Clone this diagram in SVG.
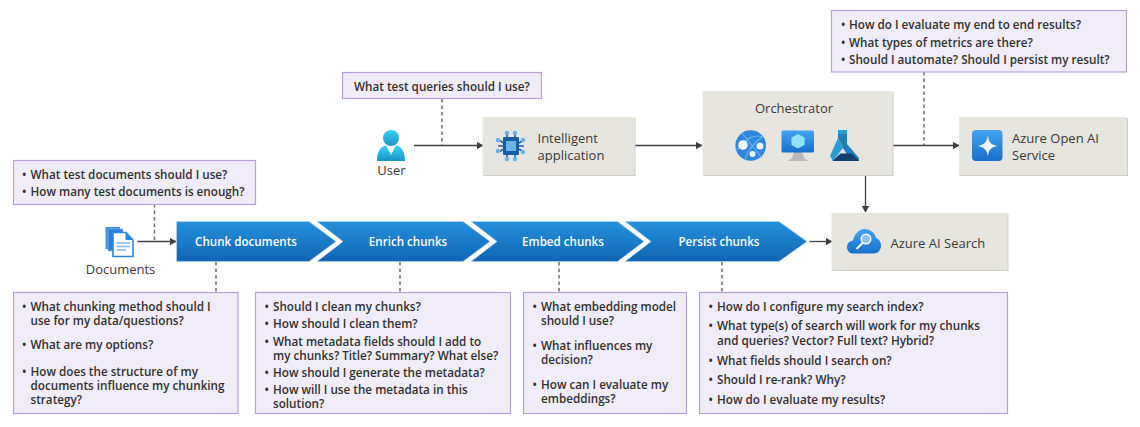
<svg xmlns="http://www.w3.org/2000/svg" width="1140" height="427" viewBox="0 0 1140 427">
<style>
text{font-family:"Open Sans","Noto Sans","Liberation Sans",sans-serif}
.q{fill:#f0edf8;stroke:#b9a0dc;stroke-width:1.2}
.qt{font-size:11.7px;font-weight:650;fill:#323130;transform:translateY(1px)}
.box{fill:#e6e5e0}
.sh{fill:#cfcec9}
.lb{font-size:13px;fill:#3b3a39}
.ct{font-size:11.6px;font-weight:650;fill:#fff;text-anchor:middle}
.ln{fill:none;stroke:#3f3f46;stroke-width:1.3}
.ds{fill:none;stroke:#6b6b6b;stroke-width:1.5;stroke-dasharray:3.5 3}
.ch{fill:url(#cg);stroke:#bcd6ec;stroke-width:.6}
</style>
<defs>
<linearGradient id="cg" x1="0" y1="0" x2="0" y2="1"><stop offset="0" stop-color="#2490dd"/><stop offset="1" stop-color="#0f66b3"/></linearGradient>
<linearGradient id="ug" x1="0" y1="0" x2="0" y2="1"><stop offset="0" stop-color="#35d3f5"/><stop offset="1" stop-color="#1b93c2"/></linearGradient>
<linearGradient id="bg" x1="0" y1="0" x2="0" y2="1"><stop offset="0" stop-color="#45a3ef"/><stop offset="1" stop-color="#1670cc"/></linearGradient>
<marker id="ah" markerWidth="7" markerHeight="8" refX="6.5" refY="4" orient="auto" markerUnits="userSpaceOnUse"><path d="M0 0L7 4L0 8Z" fill="#3f3f46"/></marker>
</defs>
<g id="connectors">
<path class="ds" d="M154.500 204V241"/>
<path class="ds" d="M216 262V292"/>
<path class="ds" d="M400 262V292"/>
<path class="ds" d="M559 262V292"/>
<path class="ds" d="M722 262V292"/>
<path class="ds" d="M442 99V145"/>
<path class="ds" d="M924 72V145"/>
<path class="ln" marker-end="url(#ah)" d="M137.500 241.500H176"/>
<path class="ln" marker-end="url(#ah)" d="M414 145.500H483"/>
<path class="ln" marker-end="url(#ah)" d="M635 145.500H702"/>
<path class="ln" marker-end="url(#ah)" d="M892 145.500H959"/>
<path class="ln" marker-end="url(#ah)" d="M865.500 175V212"/>
<path class="ln" marker-end="url(#ah)" d="M809.500 241.500H832"/>
</g>
<g id="q-top-right"><rect class="q" x="831.500" y="10.500" width="295" height="61.500"/>
<text class="qt"><tspan x="841" y="28">•</tspan><tspan x="849" y="28">How do I evaluate my end to end results?</tspan><tspan x="841" y="46">•</tspan><tspan x="849" y="46">What types of metrics are there?</tspan><tspan x="841" y="63">•</tspan><tspan x="849" y="63">Should I automate? Should I persist my result?</tspan></text></g>
<g id="q-user"><rect class="q" x="342.500" y="72.500" width="199" height="26"/><text class="qt" x="354" y="90">What test queries should I use?</text></g>
<g id="q-docs"><rect class="q" x="13.500" y="160.500" width="242" height="44"/>
<text class="qt"><tspan x="22" y="178">•</tspan><tspan x="30.500" y="178">What test documents should I use?</tspan><tspan x="22" y="195">•</tspan><tspan x="30.500" y="195">How many test documents is enough?</tspan></text></g>
<g id="q-chunk"><rect class="q" x="13.500" y="292.500" width="224.500" height="121"/>
<text class="qt"><tspan x="22" y="310">•</tspan><tspan x="30.500" y="310">What chunking method should I</tspan><tspan x="30.500" y="324">use for my data/questions?</tspan><tspan x="22" y="348">•</tspan><tspan x="30.500" y="348">What are my options?</tspan><tspan x="22" y="375">•</tspan><tspan x="30.500" y="375">How does the structure of my</tspan><tspan x="30.500" y="389">documents influence my chunking</tspan><tspan x="30.500" y="403">strategy?</tspan></text></g>
<g id="q-enrich"><rect class="q" x="255.500" y="292.500" width="255" height="121"/>
<text class="qt"><tspan x="264.500" y="310">•</tspan><tspan x="273" y="310">Should I clean my chunks?</tspan><tspan x="264.500" y="327">•</tspan><tspan x="273" y="327">How should I clean them?</tspan><tspan x="264.500" y="345">•</tspan><tspan x="273" y="345">What metadata fields should I add to</tspan><tspan x="273" y="359">my chunks? Title? Summary? What else?</tspan><tspan x="264.500" y="376">•</tspan><tspan x="273" y="376">How should I generate the metadata?</tspan><tspan x="264.500" y="393">•</tspan><tspan x="273" y="393">How will I use the metadata in this</tspan><tspan x="273" y="407">solution?</tspan></text></g>
<g id="q-embed"><rect class="q" x="523.500" y="292.500" width="163" height="121"/>
<text class="qt"><tspan x="532.500" y="310">•</tspan><tspan x="541" y="310">What embedding model</tspan><tspan x="541" y="324">should I use?</tspan><tspan x="532.500" y="348.500">•</tspan><tspan x="541" y="348.500">What influences my</tspan><tspan x="541" y="362.500">decision?</tspan><tspan x="532.500" y="387.500">•</tspan><tspan x="541" y="387.500">How can I evaluate my</tspan><tspan x="541" y="401.500">embeddings?</tspan></text></g>
<g id="q-persist"><rect class="q" x="699.500" y="292.500" width="308" height="121"/>
<text class="qt"><tspan x="708.500" y="310">•</tspan><tspan x="717" y="310">How do I configure my search index?</tspan><tspan x="708.500" y="329">•</tspan><tspan x="717" y="329">What type(s) of search will work for my chunks</tspan><tspan x="717" y="344">and queries? Vector? Full text? Hybrid?</tspan><tspan x="708.500" y="364">•</tspan><tspan x="717" y="364">What fields should I search on?</tspan><tspan x="708.500" y="383">•</tspan><tspan x="717" y="383">Should I re-rank? Why?</tspan><tspan x="708.500" y="403">•</tspan><tspan x="717" y="403">How do I evaluate my results?</tspan></text></g>
<g id="user">
<circle cx="391" cy="138" r="8" fill="url(#ug)"/>
<path d="M377 161C377 151 381 146 386 145.500L391 154L396 145.500C401 146 405 151 405 161Z" fill="url(#ug)"/>
<path d="M387 146H395L391 155Z" fill="#fff"/>
<text class="lb" x="391.500" y="175" text-anchor="middle">User</text></g>
<g id="app"><rect class="sh" x="483.500" y="118" width="152" height="58"/><rect class="box" x="482.500" y="117" width="152" height="58"/>
<path d="M507 131V137M515 131V137M507 155V160M515 155V160M498 146H503M519 146H524M498 141H501L503 143M524 141H522L519 143M498 151H501L503 149M524 151H522L519 149" stroke="#1a5ca6" stroke-width="1.6" fill="none"/>
<g fill="#6cb3e6"><circle cx="507" cy="133" r="2.300"/><circle cx="515" cy="133" r="2.300"/><circle cx="507" cy="159" r="2.300"/><circle cx="515" cy="159" r="2.300"/><circle cx="498" cy="140" r="2.300"/><circle cx="498" cy="151" r="2.300"/><circle cx="523" cy="140" r="2.300"/><circle cx="523" cy="152" r="2.300"/></g>
<rect x="503" y="137" width="16" height="18" rx="1" fill="#1a5ca6"/><rect x="506" y="141" width="10" height="10" fill="#6cb3e6"/>
<text class="lb"><tspan x="537.500" y="143">Intelligent</tspan><tspan x="537.500" y="160">application</tspan></text></g>
<g id="orchestrator"><rect class="sh" x="703.500" y="92" width="190" height="84"/><rect class="box" x="702.500" y="91" width="190" height="84"/>
<text class="lb" x="794" y="113" text-anchor="middle">Orchestrator</text>
<circle cx="750.700" cy="145.500" r="15.300" fill="#2f86dc"/>
<path d="M742 133L762 158M737 150C745 138 755 134 763 137M745 160C748 150 755 142 762 137" stroke="#6fb2ec" stroke-width="1.200" fill="none"/>
<circle cx="743" cy="145" r="4.800" fill="#eef6fc"/><circle cx="760" cy="146" r="3.500" fill="#eef6fc"/><circle cx="752.500" cy="154" r="3" fill="#eef6fc"/>
<path d="M794 152H802L804 158L808 161H788L792 158Z" fill="#b9b9b9"/>
<rect x="781.500" y="130.500" width="32.500" height="22" rx="1.500" fill="url(#bg)"/>
<path d="M798 134L804.500 137.500V145L798 148.500L791.500 145V137.500Z" fill="#8fe6f5"/>
<path d="M838 130H847V144L859 158V161H851L843 148L838 138Z" fill="#1f7fb8"/>
<path d="M838 130H847V134H838Z" fill="#2a9bd3"/>
<path d="M838 138L830 156L833 161L843 148Z" fill="#2a9bd3"/>
<path d="M832.500 161L840.500 153.500H852L859 161Z" fill="#153f6e"/>
</g>
<g id="openai"><rect class="sh" x="960" y="118" width="168" height="58"/><rect class="box" x="959" y="117" width="168" height="58"/>
<rect x="972" y="130" width="30.500" height="31" rx="4" fill="url(#bg)"/>
<path d="M988 135C988.500 142 991 145 997.500 146C991 147 988.500 150 988 156.500C987 150 984 147 977.500 146C984 145 987 142 988 135Z" fill="#eef5fc"/>
<text class="lb"><tspan x="1012" y="143">Azure Open AI</tspan><tspan x="1012" y="160">Service</tspan></text></g>
<g id="search"><rect class="sh" x="832.500" y="214" width="176" height="57"/><rect class="box" x="831.500" y="213" width="176" height="57"/>
<path d="M853 253.500C845 253.500 845 241 853 240.500C855 233 860 229 864 229C871 229 875 233 876 238C883 240 883 253 874 253.500Z" fill="url(#bg)"/>
<circle cx="866" cy="239" r="4.800" fill="#8dc2f4" stroke="#fff" stroke-width="1.400"/>
<path d="M862.500 243L856.500 249" stroke="#fff" stroke-width="2"/>
<text class="lb" x="890.500" y="248">Azure AI Search</text></g>
<g id="documents">
<path d="M105.500 227H120V249H105.500Z" fill="#3b8fe0"/><path d="M108 229H123V251H108Z" fill="#2f7fd4" stroke="#8cc0ef" stroke-width=".6"/>
<path d="M113 232.500H126L133 240V256.500H113Z" fill="#fff" stroke="#2a86dc" stroke-width="1.600"/>
<path d="M125.500 232.500V240H133Z" fill="#2a86dc"/>
<path d="M116.500 243H130M116.500 246.500H130M116.500 250H126" stroke="#7fb7ec" stroke-width="1.300"/>
<text class="lb" x="120.500" y="274" text-anchor="middle">Documents</text></g>
<g id="chunk"><path class="ch" d="M176.500 221.500H309L336 241.500L309 261.500H176.500Z"/><text class="ct" x="246" y="245.500">Chunk documents</text></g>
<g id="enrich"><path class="ch" d="M317 221.500H463L490 241.500L463 261.500H317L343 241.500Z"/><text class="ct" x="408" y="245.500">Enrich chunks</text></g>
<g id="embed"><path class="ch" d="M471 221.500H617.500L644 241.500L617.500 261.500H471L497 241.500Z"/><text class="ct" x="563" y="245.500">Embed chunks</text></g>
<g id="persist"><path class="ch" d="M625 221.500H779L807 241.500L779 261.500H625L651 241.500Z"/><text class="ct" x="719" y="245.500">Persist chunks</text></g>
</svg>
